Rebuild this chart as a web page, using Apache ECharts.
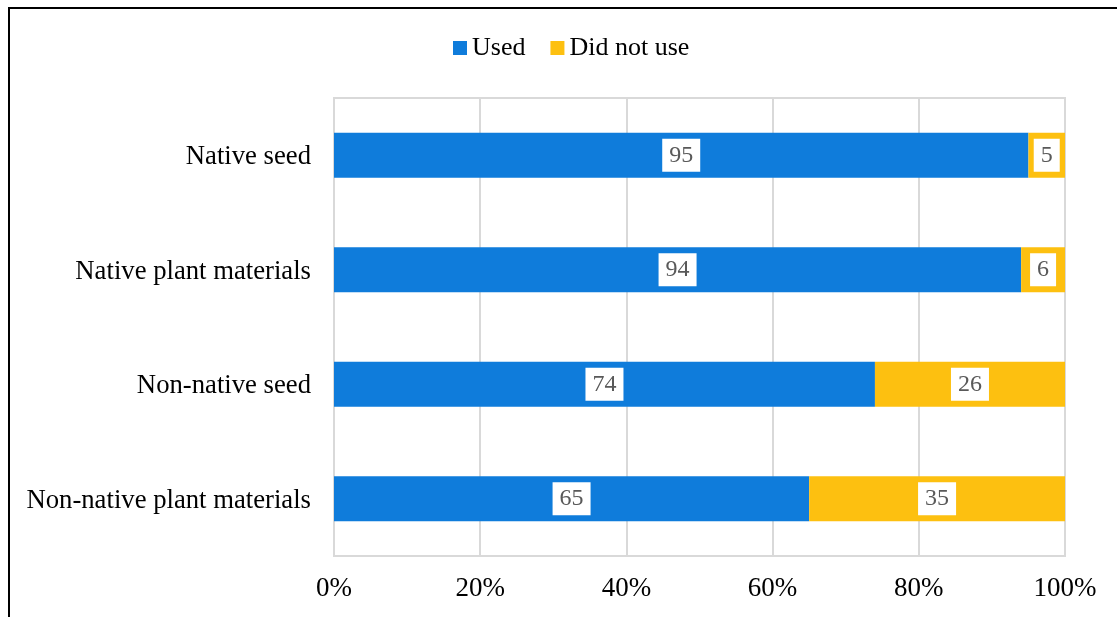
<!DOCTYPE html>
<html>
<head>
<meta charset="utf-8">
<script src="https://cdn.jsdelivr.net/npm/echarts@6/dist/echarts.min.js"></script>
<style>html,body{margin:0;padding:0;background:#fff;}#c{width:1117px;height:617px;}</style>
</head>
<body>
<div id="c"></div>
<script>
const categories = ['Non-native plant materials', 'Non-native seed', 'Native plant materials', 'Native seed'];
const usedValues = [65, 74, 94, 95];
const notUsedValues = [35, 26, 6, 5];
const seriesNames = ['Used', 'Did not use'];
const xTicks = [0, 20, 40, 60, 80, 100];

const font = '"Liberation Serif", "Times New Roman", serif';
const chart = echarts.init(document.getElementById('c'));
const labelStyle = {
  show: true,
  position: 'inside',
  fontFamily: font,
  fontSize: 24,
  lineHeight: 24,
  color: '#595959',
  backgroundColor: '#fff',
  padding: [5, 7, 4, 7],
  formatter: p => p.value
};
chart.setOption({
  animation: false,
  graphic: [{
    type: 'rect',
    shape: { x: 9, y: 8, width: 1200, height: 700 },
    style: { fill: 'none', stroke: '#000', lineWidth: 2 },
    silent: true
  }],
  legend: {
    top: 30,
    left: 448,
    itemWidth: 14,
    itemHeight: 14,
    itemGap: 25,
    icon: 'rect',
    textStyle: { fontFamily: font, fontSize: 26, color: '#000' },
    data: seriesNames
  },
  grid: {
    left: 334, right: 52, top: 98, bottom: 61,
    show: true, borderColor: '#d9d9d9', borderWidth: 2,
    containLabel: false
  },
  xAxis: {
    type: 'value',
    min: 0, max: 100, interval: 20,
    axisLine: { show: false },
    axisTick: { show: false },
    splitLine: { show: true, lineStyle: { color: '#d9d9d9', width: 2 } },
    axisLabel: { fontFamily: font, fontSize: 27, color: '#000', margin: 19, formatter: v => v + '%' }
  },
  yAxis: {
    type: 'category',
    data: categories,
    axisLine: { show: false },
    axisTick: { show: false },
    axisLabel: {
      margin: 23,
      formatter: v => '{a|' + v + '}',
      rich: { a: { fontFamily: font, fontSize: 26.7, color: '#000', padding: [4, 0, 0, 0] } }
    }
  },
  series: [
    { name: seriesNames[0], type: 'bar', stack: 's', data: usedValues, barWidth: 45,
      itemStyle: { color: '#0F7CDB' }, label: labelStyle },
    { name: seriesNames[1], type: 'bar', stack: 's', data: notUsedValues, barWidth: 45,
      itemStyle: { color: '#FDC010' }, label: labelStyle }
  ]
});
</script>
</body>
</html>
